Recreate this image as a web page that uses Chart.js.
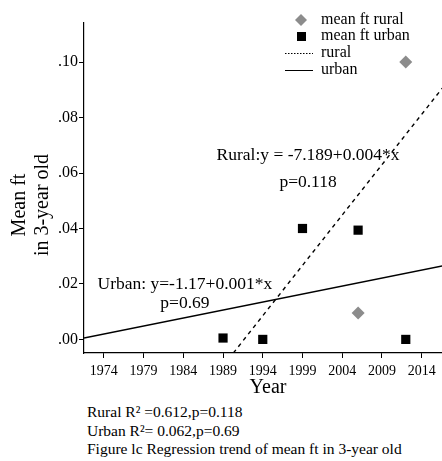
<!DOCTYPE html>
<html>
<head>
<meta charset="utf-8">
<script src="https://cdn.jsdelivr.net/npm/chart.js@4"></script>
<style>
  body { margin: 0; background: #fff; overflow: hidden; }
  #wrap { position: relative; width: 442px; height: 461px; overflow: hidden; }
  #notes {
    position: absolute; left: 87px; top: 403px;
    font: 15.5px "Liberation Serif", serif; line-height: 18.5px; color: #000;
  }
</style>
</head>
<body>
<div id="wrap">
  <canvas id="trend" width="470" height="400"></canvas>
  <div id="notes">
    Rural R² =0.612,p=0.118<br>
    Urban R²= 0.062,p=0.69<br>
    Figure lc Regression trend of mean ft in 3-year old
  </div>
</div>
<script>
// values
const xTickYears = [1974, 1979, 1984, 1989, 1994, 1999, 2004, 2009, 2014];
const yTickValues = [0, 0.02, 0.04, 0.06, 0.08, 0.10];

const ruralYears = [2006, 2012];
const ruralMeans = [0.0095, 0.100];
const urbanYears = [1989, 1994, 1999, 2006, 2012];
const urbanMeans = [0.0005, 0.0, 0.040, 0.0394, 0.0];

const ruralFitYears = [1990.3, 2016.6];
const ruralFitValues = [-0.0049, 0.0906];
const urbanFitYears = [1971.5, 2016.6];
const urbanFitValues = [0.0005, 0.0265];

const xRange = [1971.5, 2016.56];
const yRange = [-0.0049, 0.1141];

const serif = '"Liberation Serif", "DejaVu Serif", serif';
const grey = "rgb(140,140,140)";

function toPoints(xs, ys) {
  return xs.map((x, i) => ({ x: x, y: ys[i] }));
}

// text written into the plot: equations, axis titles, legend
const notesPlugin = {
  id: "notes",
  afterDraw(chart) {
    const c = chart.ctx;
    const xs = chart.scales.x, ys = chart.scales.y;
    c.save();
    c.fillStyle = "#000";
    c.textAlign = "center";
    c.textBaseline = "middle";

    c.font = "17.5px " + serif;
    c.fillText("Rural:y = -7.189+0.004*x", xs.getPixelForValue(1999.7), ys.getPixelForValue(0.0664));
    c.fillText("p=0.118", xs.getPixelForValue(1999.7), ys.getPixelForValue(0.0567));
    c.fillText("Urban: y=-1.17+0.001*x", xs.getPixelForValue(1984.2), ys.getPixelForValue(0.0199));
    c.fillText("p=0.69", xs.getPixelForValue(1984.2), ys.getPixelForValue(0.013));

    // axis titles
    c.font = "20px " + serif;
    c.fillText("Year", 268, 388);
    c.save();
    c.translate(20, 205);
    c.rotate(-Math.PI / 2);
    c.fillText("Mean ft", 0, 0);
    c.restore();
    c.save();
    c.translate(43, 205);
    c.rotate(-Math.PI / 2);
    c.fillText("in 3-year old", 0, 0);
    c.restore();

    // legend
    c.font = "16px " + serif;
    c.textAlign = "left";
    const lx = 321;
    const rows = [20, 36, 53, 70];
    chart.data.datasets.forEach((ds, i) => {
      const y = rows[i];
      c.fillText(ds.label, lx, y);
      if (ds.showLine) {
        c.strokeStyle = "#000";
        c.lineWidth = 1;
        c.setLineDash(ds.borderDash && ds.borderDash.length ? [1.5, 1.5] : []);
        c.beginPath();
        c.moveTo(285, y + 0.5);
        c.lineTo(313, y + 0.5);
        c.stroke();
        c.setLineDash([]);
      } else {
        c.fillStyle = ds.backgroundColor;
        c.beginPath();
        if (ds.pointStyle === "rectRot") {
          c.moveTo(301, y - 6); c.lineTo(307, y); c.lineTo(301, y + 6); c.lineTo(295, y);
        } else {
          c.rect(297, y - 4, 9, 9);
        }
        c.fill();
        c.fillStyle = "#000";
      }
    });
    c.restore();
  }
};

new Chart(document.getElementById("trend"), {
  type: "scatter",
  data: {
    datasets: [
      {
        label: "mean ft rural",
        data: toPoints(ruralYears, ruralMeans),
        pointStyle: "rectRot",
        radius: 6.5,
        backgroundColor: grey,
        borderColor: grey,
        borderWidth: 0,
        showLine: false
      },
      {
        label: "mean ft urban",
        data: toPoints(urbanYears, urbanMeans),
        pointStyle: "rect",
        radius: 6.5,
        backgroundColor: "#000",
        borderColor: "#000",
        borderWidth: 0,
        showLine: false
      },
      {
        label: "rural",
        data: toPoints(ruralFitYears, ruralFitValues),
        showLine: true,
        borderColor: "#000",
        borderWidth: 1.4,
        borderDash: [4, 4],
        pointRadius: 0
      },
      {
        label: "urban",
        data: toPoints(urbanFitYears, urbanFitValues),
        showLine: true,
        borderColor: "#000",
        borderWidth: 1.3,
        pointRadius: 0
      }
    ]
  },
  options: {
    responsive: false,
    animation: false,
    devicePixelRatio: 1,
    // canvas is wider than the window so the plot runs to the right edge
    layout: { padding: { top: 23, left: 0, right: 28, bottom: 0 } },
    plugins: {
      legend: { display: false },
      tooltip: { enabled: false }
    },
    scales: {
      x: {
        type: "linear",
        min: xRange[0],
        max: xRange[1],
        afterBuildTicks: (s) => { s.ticks = xTickYears.map((v) => ({ value: v })); },
        afterFit: (s) => { s.height = 47; s.paddingLeft = 0; s.paddingRight = 0; },
        border: { display: true, color: "#000", width: 1.2 },
        grid: { drawOnChartArea: false, drawTicks: true, tickLength: 5, tickColor: "#000" },
        ticks: {
          color: "#000",
          font: { family: serif, size: 14 },
          padding: 5,
          maxRotation: 0,
          autoSkip: false,
          callback: (v) => String(v)
        }
      },
      y: {
        type: "linear",
        min: yRange[0],
        max: yRange[1],
        afterBuildTicks: (s) => { s.ticks = yTickValues.map((v) => ({ value: v })); },
        afterFit: (s) => { s.width = 84; s.paddingTop = 0; s.paddingBottom = 0; },
        border: { display: true, color: "#000", width: 1.2 },
        grid: { drawOnChartArea: false, drawTicks: true, tickLength: 5, tickColor: "#000" },
        ticks: {
          color: "#000",
          font: { family: serif, size: 16 },
          padding: 1,
          autoSkip: false,
          callback: (v) => v.toFixed(2).replace(/^0/, "")
        }
      }
    }
  },
  plugins: [notesPlugin]
});
</script>
</body>
</html>
